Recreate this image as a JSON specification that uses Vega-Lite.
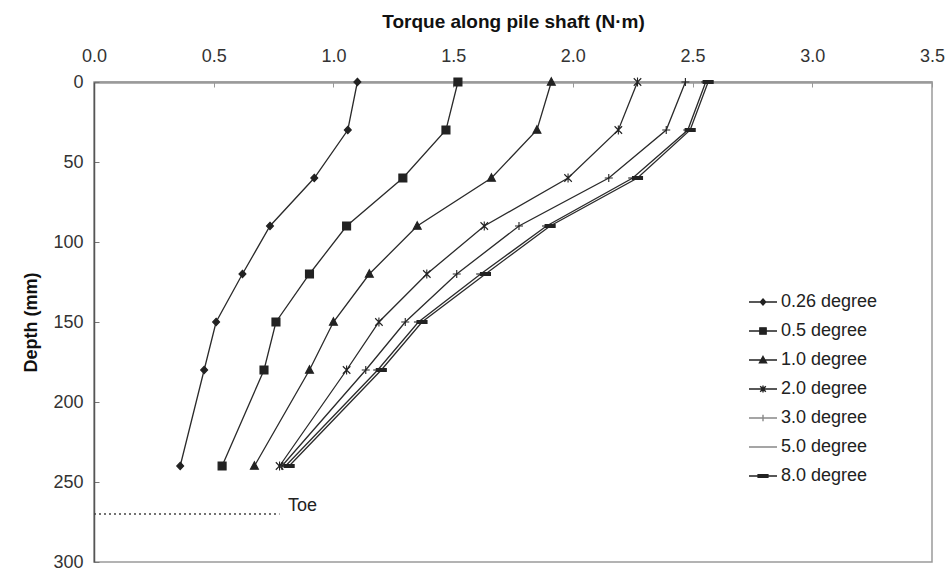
{
  "$schema": "https://vega.github.io/schema/vega-lite/v6.json",
  "width": 838,
  "height": 480,
  "autosize": "none",
  "padding": {"left": 94, "top": 82, "right": 16, "bottom": 13},
  "background": "white",
  "config": {
    "font": "Liberation Sans",
    "view": {"stroke": "#9a9a9a", "strokeWidth": 1.5},
    "axis": {"grid": false}
  },
  "resolve": {"scale": {"shape": "independent", "color": "independent", "stroke": "independent"}, "legend": {"shape": "independent"}},
  "datasets": {
    "curves": [
      {"series": "0.26 degree", "depth": 0, "torque": 1.10},
      {"series": "0.26 degree", "depth": 30, "torque": 1.06},
      {"series": "0.26 degree", "depth": 60, "torque": 0.92},
      {"series": "0.26 degree", "depth": 90, "torque": 0.735},
      {"series": "0.26 degree", "depth": 120, "torque": 0.62},
      {"series": "0.26 degree", "depth": 150, "torque": 0.51},
      {"series": "0.26 degree", "depth": 180, "torque": 0.46},
      {"series": "0.26 degree", "depth": 240, "torque": 0.36},
      {"series": "0.5 degree", "depth": 0, "torque": 1.52},
      {"series": "0.5 degree", "depth": 30, "torque": 1.47},
      {"series": "0.5 degree", "depth": 60, "torque": 1.29},
      {"series": "0.5 degree", "depth": 90, "torque": 1.055},
      {"series": "0.5 degree", "depth": 120, "torque": 0.90},
      {"series": "0.5 degree", "depth": 150, "torque": 0.76},
      {"series": "0.5 degree", "depth": 180, "torque": 0.71},
      {"series": "0.5 degree", "depth": 240, "torque": 0.535},
      {"series": "1.0 degree", "depth": 0, "torque": 1.91},
      {"series": "1.0 degree", "depth": 30, "torque": 1.85},
      {"series": "1.0 degree", "depth": 60, "torque": 1.66},
      {"series": "1.0 degree", "depth": 90, "torque": 1.35},
      {"series": "1.0 degree", "depth": 120, "torque": 1.15},
      {"series": "1.0 degree", "depth": 150, "torque": 1.0},
      {"series": "1.0 degree", "depth": 180, "torque": 0.90},
      {"series": "1.0 degree", "depth": 240, "torque": 0.67},
      {"series": "2.0 degree", "depth": 0, "torque": 2.27},
      {"series": "2.0 degree", "depth": 30, "torque": 2.19},
      {"series": "2.0 degree", "depth": 60, "torque": 1.98},
      {"series": "2.0 degree", "depth": 90, "torque": 1.63},
      {"series": "2.0 degree", "depth": 120, "torque": 1.39},
      {"series": "2.0 degree", "depth": 150, "torque": 1.19},
      {"series": "2.0 degree", "depth": 180, "torque": 1.055},
      {"series": "2.0 degree", "depth": 240, "torque": 0.775},
      {"series": "3.0 degree", "depth": 0, "torque": 2.47},
      {"series": "3.0 degree", "depth": 30, "torque": 2.39},
      {"series": "3.0 degree", "depth": 60, "torque": 2.15},
      {"series": "3.0 degree", "depth": 90, "torque": 1.775},
      {"series": "3.0 degree", "depth": 120, "torque": 1.515},
      {"series": "3.0 degree", "depth": 150, "torque": 1.30},
      {"series": "3.0 degree", "depth": 180, "torque": 1.135},
      {"series": "3.0 degree", "depth": 240, "torque": 0.785},
      {"series": "5.0 degree", "depth": 0, "torque": 2.555},
      {"series": "5.0 degree", "depth": 30, "torque": 2.48},
      {"series": "5.0 degree", "depth": 60, "torque": 2.25},
      {"series": "5.0 degree", "depth": 90, "torque": 1.89},
      {"series": "5.0 degree", "depth": 120, "torque": 1.615},
      {"series": "5.0 degree", "depth": 150, "torque": 1.355},
      {"series": "5.0 degree", "depth": 180, "torque": 1.185},
      {"series": "5.0 degree", "depth": 240, "torque": 0.80},
      {"series": "8.0 degree", "depth": 0, "torque": 2.565},
      {"series": "8.0 degree", "depth": 30, "torque": 2.49},
      {"series": "8.0 degree", "depth": 60, "torque": 2.27},
      {"series": "8.0 degree", "depth": 90, "torque": 1.905},
      {"series": "8.0 degree", "depth": 120, "torque": 1.635},
      {"series": "8.0 degree", "depth": 150, "torque": 1.37},
      {"series": "8.0 degree", "depth": 180, "torque": 1.20},
      {"series": "8.0 degree", "depth": 240, "torque": 0.815}
    ],
    "toe": [
      {"label": "Toe", "start": 0, "end": 0.775, "depth": 270, "labelTorque": 0.81, "labelDepth": 265}
    ]
  },
  "layer": [
    {
      "data": {"name": "curves"},
      "mark": {"type": "line", "strokeWidth": 1.3, "color": "#2a2a2a"},
      "encoding": {
        "x": {
          "field": "torque", "type": "quantitative",
          "scale": {"domain": [0, 3.5], "nice": false, "zero": false},
          "axis": {
            "orient": "top",
            "title": "Torque along pile shaft (N·m)",
            "values": [0, 0.5, 1, 1.5, 2, 2.5, 3, 3.5],
            "format": ".1f",
            "labelFontSize": 18,
            "labelColor": "#333",
            "labelPadding": 22,
            "labelFlush": false,
            "tickSize": -5,
            "tickColor": "#999",
            "domainColor": "#9a9a9a",
            "domainWidth": 2.5,
            "titleFontSize": 19,
            "titleFontWeight": "bold",
            "titleColor": "#111",
            "titlePadding": 16
          }
        },
        "y": {
          "field": "depth", "type": "quantitative",
          "scale": {"domain": [0, 300], "reverse": true, "nice": false},
          "axis": {
            "orient": "left",
            "title": "Depth (mm)",
            "values": [0, 50, 100, 150, 200, 250, 300],
            "labelFontSize": 18,
            "labelColor": "#333",
            "labelPadding": 16,
            "labelFlush": false,
            "tickSize": -5,
            "tickColor": "#777",
            "domainColor": "#555",
            "domainWidth": 1.5,
            "titleFontSize": 18,
            "titleFontWeight": "bold",
            "titleColor": "#111",
            "titlePadding": 12
          }
        },
        "detail": {"field": "series"},
        "order": {"field": "depth", "type": "quantitative"}
      }
    },
    {
      "data": {"name": "curves"},
      "mark": {"type": "point", "filled": true, "opacity": 1, "color": "#222", "stroke": "#222", "strokeWidth": 1.1, "size": 100},
      "encoding": {
        "x": {"field": "torque", "type": "quantitative"},
        "y": {"field": "depth", "type": "quantitative"},
        "shape": {
          "field": "series", "type": "nominal",
          "scale": {
            "domain": ["0.26 degree", "0.5 degree", "1.0 degree", "2.0 degree", "3.0 degree", "5.0 degree", "8.0 degree"],
            "range": [
              "M0,-0.75L0.7,0L0,0.75L-0.7,0Z",
              "M-0.8,-0.8L0.8,-0.8L0.8,0.8L-0.8,0.8Z",
              "M0,-0.85L0.8,0.65L-0.8,0.65Z",
              "M-0.75,-0.75L0.75,0.75M-0.75,0.75L0.75,-0.75M0,-0.9L0,0.9",
              "M-0.8,0L0.8,0M0,-0.8L0,0.8",
              "M-0.9,0L0.9,0",
              "M-1,-0.3L1,-0.3L1,0.3L-1,0.3Z"
            ]
          },
          "legend": null
        }
      }
    },
    {
      "data": {"name": "curves"},
      "mark": {"type": "point", "filled": true, "opacity": 1, "size": 0, "strokeWidth": 1.4},
      "encoding": {
        "x": {"field": "torque", "type": "quantitative"},
        "y": {"field": "depth", "type": "quantitative"},
        "color": {
          "field": "series", "type": "nominal",
          "scale": {
            "domain": ["0.26 degree", "0.5 degree", "1.0 degree", "2.0 degree", "3.0 degree", "5.0 degree", "8.0 degree"],
            "range": ["#222222", "#222222", "#222222", "#222222", "#888888", "#888888", "#222222"]
          },
          "legend": {
            "title": null,
            "orient": "none",
            "legendX": 660,
            "legendY": 211,
            "symbolSize": 196,
            "symbolStrokeWidth": 1.4,
            "labelOffset": 9,
            "labelFontSize": 18,
            "labelColor": "#222",
            "rowPadding": 11,
            "padding": 0
          }
        },
        "stroke": {
          "field": "series", "type": "nominal",
          "scale": {
            "domain": ["0.26 degree", "0.5 degree", "1.0 degree", "2.0 degree", "3.0 degree", "5.0 degree", "8.0 degree"],
            "range": ["#222222", "#222222", "#222222", "#222222", "#888888", "#888888", "#222222"]
          },
          "legend": {
            "title": null,
            "orient": "none",
            "legendX": 660,
            "legendY": 211,
            "symbolSize": 196,
            "symbolStrokeWidth": 1.4,
            "labelOffset": 9,
            "labelFontSize": 18,
            "labelColor": "#222",
            "rowPadding": 11,
            "padding": 0
          }
        },
        "shape": {
          "field": "series", "type": "nominal",
          "scale": {
            "domain": ["0.26 degree", "0.5 degree", "1.0 degree", "2.0 degree", "3.0 degree", "5.0 degree", "8.0 degree"],
            "range": [
              "M-2,0L2,0M0,-0.42L0.38,0L0,0.42L-0.38,0Z",
              "M-2,0L2,0M-0.45,-0.45L0.45,-0.45L0.45,0.45L-0.45,0.45Z",
              "M-2,0L2,0M0,-0.5L0.5,0.4L-0.5,0.4Z",
              "M-2,0L2,0M-0.4,-0.4L0.4,0.4M-0.4,0.4L0.4,-0.4M0,-0.5L0,0.5",
              "M-2,0L2,0M0,-0.45L0,0.45",
              "M-2,0L2,0M-0.6,0L0.6,0",
              "M-2,0L2,0M-0.7,-0.18L0.7,-0.18L0.7,0.18L-0.7,0.18Z"
            ]
          },
          "legend": {
            "title": null,
            "orient": "none",
            "legendX": 660,
            "legendY": 211,
            "symbolSize": 196,
            "symbolStrokeWidth": 1.4,
            "labelOffset": 9,
            "labelFontSize": 18,
            "labelColor": "#222",
            "rowPadding": 11,
            "padding": 0
          }
        }
      }
    },
    {
      "data": {"name": "toe"},
      "mark": {"type": "rule", "strokeDash": [2, 3], "strokeWidth": 1.3, "color": "#444"},
      "encoding": {
        "x": {"field": "start", "type": "quantitative"},
        "x2": {"field": "end"},
        "y": {"field": "depth", "type": "quantitative"}
      }
    },
    {
      "data": {"name": "toe"},
      "mark": {"type": "text", "align": "left", "baseline": "middle", "fontSize": 18, "color": "#222"},
      "encoding": {
        "x": {"field": "labelTorque", "type": "quantitative"},
        "y": {"field": "labelDepth", "type": "quantitative"},
        "text": {"field": "label"}
      }
    }
  ]
}
